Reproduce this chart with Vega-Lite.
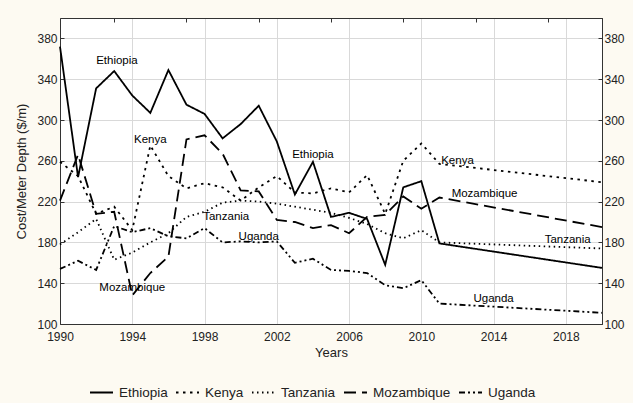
{
  "$schema": "https://vega.github.io/schema/vega-lite/v6.json",
  "width": 542,
  "height": 306,
  "autosize": "none",
  "padding": {"left": 60, "top": 18, "right": 31, "bottom": 79},
  "background": "#fdfaf2",
  "config": {
    "font": "Liberation Sans",
    "view": {"fill": "white", "stroke": "#333333", "strokeWidth": 1},
    "axis": {"domainColor": "#333333", "tickColor": "#333333", "labelColor": "#222222", "titleColor": "#222222", "labelFontSize": 12, "titleFontSize": 13, "titleFontWeight": "normal", "gridColor": "#d9d9d9", "gridWidth": 1}
  },
  "datasets": {
    "series": [
      {"country": "Ethiopia", "year": 1990, "value": 372}, {"country": "Ethiopia", "year": 1991, "value": 244}, {"country": "Ethiopia", "year": 1992, "value": 331}, {"country": "Ethiopia", "year": 1993, "value": 348}, {"country": "Ethiopia", "year": 1994, "value": 324}, {"country": "Ethiopia", "year": 1995, "value": 307}, {"country": "Ethiopia", "year": 1996, "value": 349}, {"country": "Ethiopia", "year": 1997, "value": 315}, {"country": "Ethiopia", "year": 1998, "value": 306}, {"country": "Ethiopia", "year": 1999, "value": 282}, {"country": "Ethiopia", "year": 2000, "value": 296}, {"country": "Ethiopia", "year": 2001, "value": 314}, {"country": "Ethiopia", "year": 2002, "value": 279}, {"country": "Ethiopia", "year": 2003, "value": 227}, {"country": "Ethiopia", "year": 2004, "value": 259}, {"country": "Ethiopia", "year": 2005, "value": 205}, {"country": "Ethiopia", "year": 2006, "value": 209}, {"country": "Ethiopia", "year": 2007, "value": 203}, {"country": "Ethiopia", "year": 2008, "value": 158}, {"country": "Ethiopia", "year": 2009, "value": 234}, {"country": "Ethiopia", "year": 2010, "value": 240}, {"country": "Ethiopia", "year": 2011, "value": 179}, {"country": "Ethiopia", "year": 2020, "value": 155},
      {"country": "Kenya", "year": 1990, "value": 259}, {"country": "Kenya", "year": 1991, "value": 245}, {"country": "Kenya", "year": 1992, "value": 208}, {"country": "Kenya", "year": 1993, "value": 215}, {"country": "Kenya", "year": 1994, "value": 192}, {"country": "Kenya", "year": 1995, "value": 275}, {"country": "Kenya", "year": 1996, "value": 245}, {"country": "Kenya", "year": 1997, "value": 233}, {"country": "Kenya", "year": 1998, "value": 238}, {"country": "Kenya", "year": 1999, "value": 234}, {"country": "Kenya", "year": 2000, "value": 221}, {"country": "Kenya", "year": 2001, "value": 234}, {"country": "Kenya", "year": 2002, "value": 245}, {"country": "Kenya", "year": 2003, "value": 229}, {"country": "Kenya", "year": 2004, "value": 228}, {"country": "Kenya", "year": 2005, "value": 233}, {"country": "Kenya", "year": 2006, "value": 229}, {"country": "Kenya", "year": 2007, "value": 246}, {"country": "Kenya", "year": 2008, "value": 208}, {"country": "Kenya", "year": 2009, "value": 260}, {"country": "Kenya", "year": 2010, "value": 277}, {"country": "Kenya", "year": 2011, "value": 257}, {"country": "Kenya", "year": 2020, "value": 239},
      {"country": "Tanzania", "year": 1990, "value": 178}, {"country": "Tanzania", "year": 1991, "value": 190}, {"country": "Tanzania", "year": 1992, "value": 203}, {"country": "Tanzania", "year": 1993, "value": 163}, {"country": "Tanzania", "year": 1994, "value": 170}, {"country": "Tanzania", "year": 1995, "value": 180}, {"country": "Tanzania", "year": 1996, "value": 189}, {"country": "Tanzania", "year": 1997, "value": 205}, {"country": "Tanzania", "year": 1998, "value": 210}, {"country": "Tanzania", "year": 1999, "value": 219}, {"country": "Tanzania", "year": 2000, "value": 221}, {"country": "Tanzania", "year": 2001, "value": 220}, {"country": "Tanzania", "year": 2002, "value": 218}, {"country": "Tanzania", "year": 2003, "value": 215}, {"country": "Tanzania", "year": 2004, "value": 212}, {"country": "Tanzania", "year": 2005, "value": 209}, {"country": "Tanzania", "year": 2006, "value": 204}, {"country": "Tanzania", "year": 2007, "value": 198}, {"country": "Tanzania", "year": 2008, "value": 189}, {"country": "Tanzania", "year": 2009, "value": 184}, {"country": "Tanzania", "year": 2010, "value": 192}, {"country": "Tanzania", "year": 2011, "value": 180}, {"country": "Tanzania", "year": 2020, "value": 174},
      {"country": "Mozambique", "year": 1990, "value": 221}, {"country": "Mozambique", "year": 1991, "value": 266}, {"country": "Mozambique", "year": 1992, "value": 208}, {"country": "Mozambique", "year": 1993, "value": 210}, {"country": "Mozambique", "year": 1994, "value": 128}, {"country": "Mozambique", "year": 1995, "value": 150}, {"country": "Mozambique", "year": 1996, "value": 166}, {"country": "Mozambique", "year": 1997, "value": 281}, {"country": "Mozambique", "year": 1998, "value": 285}, {"country": "Mozambique", "year": 1999, "value": 267}, {"country": "Mozambique", "year": 2000, "value": 231}, {"country": "Mozambique", "year": 2001, "value": 230}, {"country": "Mozambique", "year": 2002, "value": 202}, {"country": "Mozambique", "year": 2003, "value": 200}, {"country": "Mozambique", "year": 2004, "value": 194}, {"country": "Mozambique", "year": 2005, "value": 197}, {"country": "Mozambique", "year": 2006, "value": 189}, {"country": "Mozambique", "year": 2007, "value": 205}, {"country": "Mozambique", "year": 2008, "value": 207}, {"country": "Mozambique", "year": 2009, "value": 225}, {"country": "Mozambique", "year": 2010, "value": 213}, {"country": "Mozambique", "year": 2011, "value": 224}, {"country": "Mozambique", "year": 2020, "value": 195},
      {"country": "Uganda", "year": 1990, "value": 154}, {"country": "Uganda", "year": 1991, "value": 162}, {"country": "Uganda", "year": 1992, "value": 153}, {"country": "Uganda", "year": 1993, "value": 196}, {"country": "Uganda", "year": 1994, "value": 190}, {"country": "Uganda", "year": 1995, "value": 194}, {"country": "Uganda", "year": 1996, "value": 186}, {"country": "Uganda", "year": 1997, "value": 184}, {"country": "Uganda", "year": 1998, "value": 194}, {"country": "Uganda", "year": 1999, "value": 180}, {"country": "Uganda", "year": 2000, "value": 181}, {"country": "Uganda", "year": 2001, "value": 180}, {"country": "Uganda", "year": 2002, "value": 181}, {"country": "Uganda", "year": 2003, "value": 160}, {"country": "Uganda", "year": 2004, "value": 164}, {"country": "Uganda", "year": 2005, "value": 153}, {"country": "Uganda", "year": 2006, "value": 152}, {"country": "Uganda", "year": 2007, "value": 150}, {"country": "Uganda", "year": 2008, "value": 138}, {"country": "Uganda", "year": 2009, "value": 135}, {"country": "Uganda", "year": 2010, "value": 143}, {"country": "Uganda", "year": 2011, "value": 120}, {"country": "Uganda", "year": 2020, "value": 111}
    ],
    "labels": [
      {"label": "Ethiopia", "year": 1993.15, "value": 358},
      {"label": "Kenya", "year": 1995.0, "value": 280},
      {"label": "Ethiopia", "year": 2004.0, "value": 266},
      {"label": "Kenya", "year": 2012.0, "value": 260},
      {"label": "Mozambique", "year": 2013.5, "value": 227},
      {"label": "Tanzania", "year": 1999.2, "value": 205},
      {"label": "Uganda", "year": 2001.0, "value": 185.5},
      {"label": "Mozambique", "year": 1994.0, "value": 135},
      {"label": "Tanzania", "year": 2018.1, "value": 182},
      {"label": "Uganda", "year": 2014.0, "value": 124.5}
    ]
  },
  "resolve": {"axis": {"x": "independent", "y": "independent"}},
  "layer": [
    {
      "data": {"name": "series"},
      "mark": {"type": "line", "color": "black", "strokeWidth": 1.8},
      "encoding": {
        "x": {"field": "year", "type": "quantitative", "scale": {"domain": [1990, 2020], "nice": false, "zero": false},
          "axis": {"orient": "bottom", "values": [1990, 1994, 1998, 2002, 2006, 2010, 2014, 2018], "format": "d", "title": "Years", "grid": true, "tickSize": 0, "labelPadding": 7, "titlePadding": 4, "labelFlush": false}},
        "y": {"field": "value", "type": "quantitative", "scale": {"domain": [100, 400], "nice": false, "zero": false},
          "axis": {"orient": "left", "values": [100, 140, 180, 220, 260, 300, 340, 380], "title": "Cost/Meter Depth ($/m)", "grid": true, "tickSize": -4, "labelPadding": 7, "titlePadding": 8}},
        "strokeDash": {"field": "country", "type": "nominal",
          "scale": {"domain": ["Ethiopia", "Kenya", "Tanzania", "Mozambique", "Uganda"], "range": [[1, 0], [2.5, 4.5], [1.5, 3.5], [12, 6], [6, 3, 2, 3, 2, 3]]},
          "legend": {"title": null, "orient": "none", "legendX": 29, "legendY": 362, "direction": "horizontal", "symbolType": "stroke", "symbolSize": 529, "symbolStrokeWidth": 2, "symbolStrokeColor": "black", "labelFontSize": 13.5, "labelColor": "#222222", "columnPadding": 4, "symbolOffset": 0, "labelOffset": 5}}
      }
    },
    {
      "data": {"name": "labels"},
      "mark": {"type": "text", "fontSize": 11.5, "color": "black", "align": "center", "baseline": "middle"},
      "encoding": {
        "x": {"field": "year", "type": "quantitative", "scale": {"domain": [1990, 2020], "nice": false, "zero": false},
          "axis": {"orient": "top", "values": [1993, 1997, 2001, 2005, 2009, 2013, 2017], "labels": false, "title": null, "grid": false, "tickSize": -4}},
        "y": {"field": "value", "type": "quantitative", "scale": {"domain": [100, 400], "nice": false, "zero": false},
          "axis": {"orient": "right", "values": [100, 140, 180, 220, 260, 300, 340, 380], "title": null, "grid": false, "tickSize": -4, "labelPadding": 6}},
        "text": {"field": "label", "type": "nominal"}
      }
    }
  ]
}
